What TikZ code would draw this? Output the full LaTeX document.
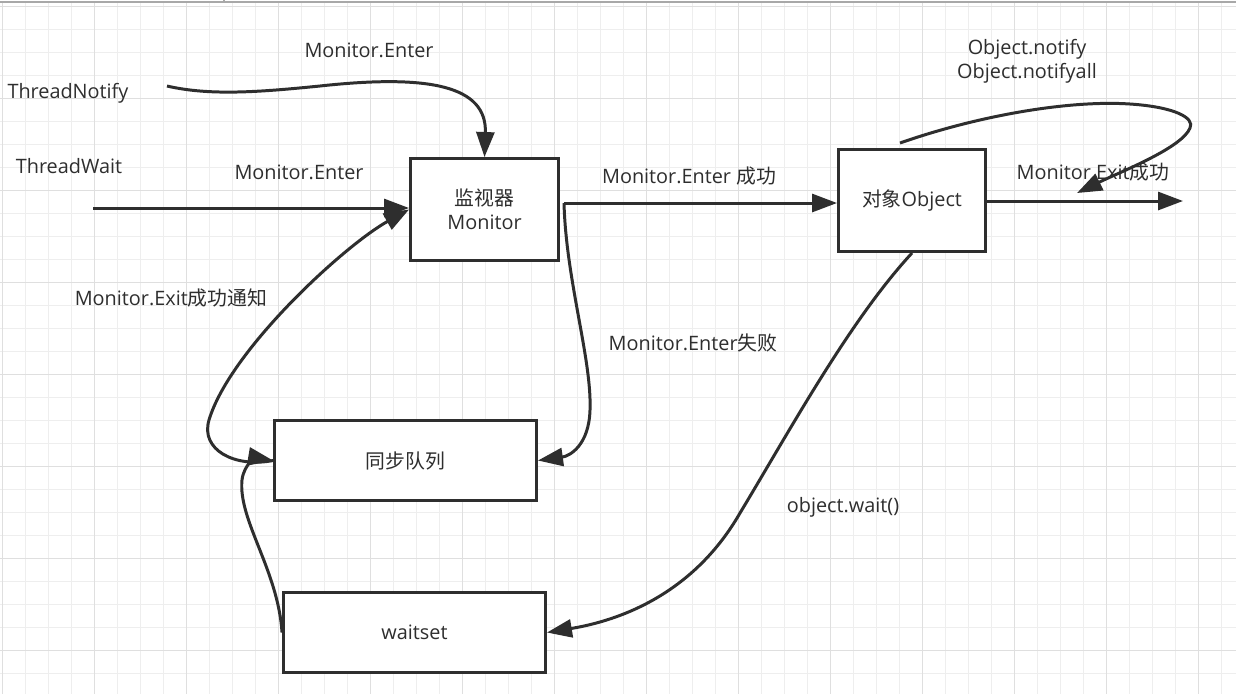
\documentclass[tikz,border=0pt]{standalone}
\usepackage{fontspec}
\setmainfont{Open Sans}
\newfontfamily\cjk{Noto Sans CJK SC}
\usepackage{xcolor}
\usetikzlibrary{arrows.meta}
\definecolor{ink}{HTML}{2E2E2E}
\definecolor{gridminor}{HTML}{EEEEEE}
\definecolor{gridmajor}{HTML}{DFDFDF}
\definecolor{barline}{HTML}{A8A8A8}

\begin{document}
\begin{tikzpicture}[
    % GLOBAL CFG
    x=0.02cm, y=-0.02cm,
    font=\fontsize{11.3}{13.6}\selectfont,
    >={Triangle[length=0.5cm, width=0.36cm]},
    % Styles
    box/.style={% For the main boxes
        rectangle,
        draw=ink,
        line width=1.7pt,
        fill=white,
        text=ink,
        align=center,
        inner sep=0pt,
        },
    txt/.style={% For free labels
        text=ink,
        align=center,
        inner sep=0pt,
        },
    minorline/.style={% Background grid
        draw=gridminor,
        line width=0.55pt,
        },
    majorline/.style={% Background grid, every 4th line
        draw=gridmajor,
        line width=0.55pt,
        },
    Arrow/.style={% Connectors
        draw=ink,
        line width=1.7pt,
        },
    ]

    % Canvas and grid
    \fill[white] (0,0) rectangle (1236,694);
    \useasboundingbox (0,0) rectangle (1236,694);
    \foreach \i in {0,...,53} \draw[minorline] (2.3+23*\i,3) -- ++(0,691);
    \foreach \j in {0,...,29} \draw[minorline] (0,6.3+23*\j) -- ++(1236,0);
    \foreach \i in {0,4,...,52} \draw[majorline] (2.3+23*\i,3) -- ++(0,691);
    \foreach \j in {0,4,...,28} \draw[majorline] (0,6.3+23*\j) -- ++(1236,0);
    \draw[barline, line width=0.6pt] (0,2) -- (1236,2);
    \draw[barline, line width=0.6pt] (224,0) -- (224,2);

    % Draw the boxes
    \node [box, minimum width=2.96cm, minimum height=2.04cm] (monitor) at (484.5,209.5) {{\cjk 监视器}\\Monitor};
    \node [box, minimum width=2.94cm, minimum height=2.04cm] (object) at (912,200.5) {{\cjk 对象}Object};
    \node [box, minimum width=5.24cm, minimum height=1.6cm] (sync) at (405.5,460.5) {\cjk 同步队列};
    \node [box, minimum width=5.24cm, minimum height=1.6cm] (waitset) at (414.5,632.5) {waitset};

    % Labels
    \node [txt] (lblEnterTop) at (369,50) {Monitor.Enter};
    \node [txt] (lblNotify) at (68,93) {ThreadNotify};
    \node [txt] (lblWait) at (69,166) {ThreadWait};
    \node [txt] (lblEnter) at (299,172) {Monitor.Enter};
    \node [txt] (lblOk) at (689,176) {Monitor.Enter {\cjk 成功}};
    \node [txt] (lblNotifyAll) at (1027,61) {Object.notify\\Object.notifyall};
    \node [txt] (lblExit) at (1093,172) {Monitor.Exit{\cjk 成功}};
    \node [txt] (lblExitNotify) at (171,298) {Monitor.Exit{\cjk 成功通知}};
    \node [txt] (lblFail) at (693,343) {Monitor.Enter{\cjk 失败}};
    \node [txt] (lblWaitCall) at (843,507) {object.wait()};

    % Free ends
    \coordinate (nstart) at (167,86);
    \coordinate (wstart) at (93,208);
    \coordinate (mout) at (564,203);
    \coordinate (oend) at (1183,201);
    \coordinate (loopa) at (900,143);
    \coordinate (loopb) at (1077,193);

    % Inputs
    \draw [->, Arrow] (wstart) -- (monitor.west |- wstart);
    \draw [->, Arrow] (nstart) .. controls (210,96) and (260,92) .. (320,86)
        .. controls (430,74) and (487,86) .. (monitor.north);

    % Monitor to object, or to the queue
    \draw [->, Arrow] (mout) -- (object.west |- mout);
    \draw [->, Arrow] (mout) .. controls (566,280) and (592,360) .. (590,410)
        .. controls (589,445) and (570,456) .. (sync.east);

    % Object outputs
    \draw [->, Arrow] (object.east |- oend) -- (oend);
    \draw [->, Arrow] (loopa) .. controls (980,115) and (1070,100) .. (1130,104)
        .. controls (1175,107) and (1195,118) .. (1190,128)
        .. controls (1182,148) and (1120,172) .. (loopb);
    \draw [->, Arrow] (object.south) .. controls (850,320) and (790,430) .. (740,513)
        .. controls (690,600) and (610,622) .. (waitset.east);

    % Back to the monitor
    \draw [->, Arrow] (sync.west) .. controls (235,468) and (200,450) .. (209,420)
        .. controls (230,350) and (345,245) .. (monitor.west);
    \draw [->, Arrow] (waitset.west) .. controls (278,570) and (238,520) .. (242,480)
        .. controls (244,463) and (258,458) .. (sync.west);

\end{tikzpicture}
\end{document}
